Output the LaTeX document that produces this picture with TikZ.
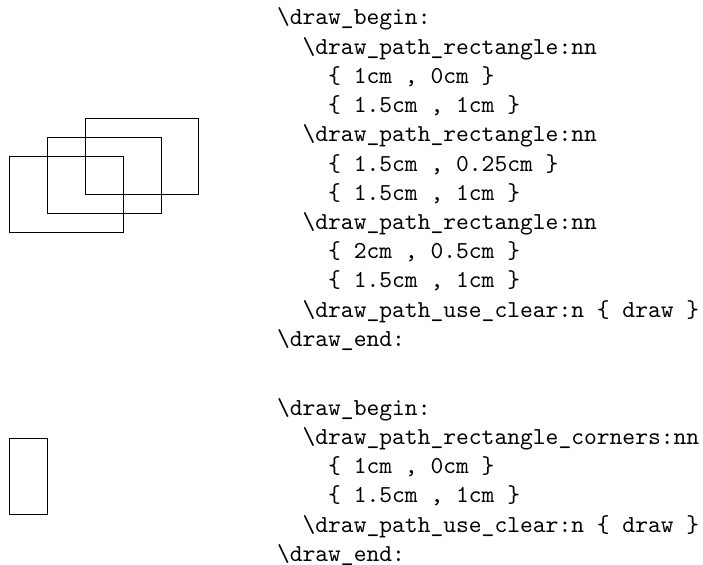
\documentclass[tikz,border=0pt]{standalone}
\begin{document}
\begin{tikzpicture}[x=0.4103pt,y=-0.4103pt,
  codeline/.style={anchor=base west,inner sep=0pt,outer sep=0pt,font=\ttfamily\frenchspacing},
  box/.style={draw=black,line width=0.4pt}]
\useasboundingbox (0,0) rectangle (703,565);
% rectangles
\draw[box] (9.3,156.7) rectangle (123,232);
\draw[box] (47.3,137.7) rectangle (161,213);
\draw[box] (85,118.3) rectangle (198.7,194.3);
\draw[box] (9.3,438.3) rectangle (47.3,514);
% top code block
\def\bs{\textbackslash}
\def\ind{\hspace*{1.05em}}
\node[codeline] (t1) at (277,25.0) {\bs draw\_begin:};
\node[codeline] (t2) at (277,54.2) {\ind\bs draw\_path\_rectangle:nn};
\node[codeline] (t3) at (277,83.4) {\ind\ind\{ 1cm , 0cm \}};
\node[codeline] (t4) at (277,112.6) {\ind\ind\{ 1.5cm , 1cm \}};
\node[codeline] (t5) at (277,141.8) {\ind\bs draw\_path\_rectangle:nn};
\node[codeline] (t6) at (277,171.0) {\ind\ind\{ 1.5cm , 0.25cm \}};
\node[codeline] (t7) at (277,200.2) {\ind\ind\{ 1.5cm , 1cm \}};
\node[codeline] (t8) at (277,229.4) {\ind\bs draw\_path\_rectangle:nn};
\node[codeline] (t9) at (277,258.6) {\ind\ind\{ 2cm , 0.5cm \}};
\node[codeline] (t10) at (277,287.8) {\ind\ind\{ 1.5cm , 1cm \}};
\node[codeline] (t11) at (277,317.0) {\ind\bs draw\_path\_use\_clear:n \{ draw \}};
\node[codeline] (t12) at (277,346.2) {\bs draw\_end:};
% bottom code block
\node[codeline] (b1) at (277,415.0) {\bs draw\_begin:};
\node[codeline] (b2) at (277,444.3) {\ind\bs draw\_path\_rectangle\_corners:nn};
\node[codeline] (b3) at (277,473.6) {\ind\ind\{ 1cm , 0cm \}};
\node[codeline] (b4) at (277,502.9) {\ind\ind\{ 1.5cm , 1cm \}};
\node[codeline] (b5) at (277,532.2) {\ind\bs draw\_path\_use\_clear:n \{ draw \}};
\node[codeline] (b6) at (277,561.5) {\bs draw\_end:};
\end{tikzpicture}
\end{document}
